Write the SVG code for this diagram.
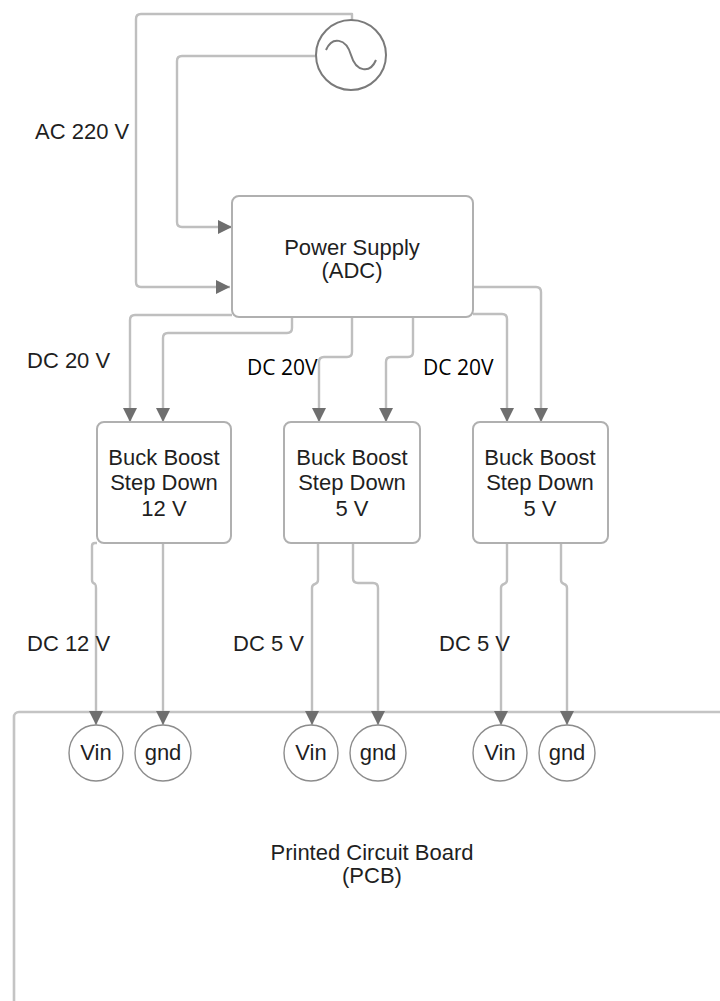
<svg xmlns="http://www.w3.org/2000/svg" width="720" height="1001" viewBox="0 0 720 1001">
<style>
.t{font-family:"Liberation Sans",Arial,sans-serif;font-size:22px;fill:#1f1f1f;text-anchor:middle}
.l{font-family:"Liberation Sans",Arial,sans-serif;font-size:22px;fill:#1f1f1f}
.c{font-family:"Open Sans","Noto Sans",sans-serif;font-size:21px;fill:#000}
.box{fill:#fff;stroke:#b0b0b0;stroke-width:2}
.pin{fill:#fff;stroke:#8c8c8c;stroke-width:1.4}
.w{fill:none;stroke:#bfbfbf;stroke-width:2.4;stroke-linejoin:round}
.wa{fill:none;stroke:#bfbfbf;stroke-width:2.4;stroke-linejoin:round;marker-end:url(#ah)}
</style>
<defs>
<marker id="ah" markerUnits="userSpaceOnUse" markerWidth="14" markerHeight="14" refX="14" refY="7" orient="auto" viewBox="0 0 14 14">
<path d="M0,0 L14,7 L0,14 z" fill="#6f6f6f"/>
</marker>
</defs>
<rect width="720" height="1001" fill="#fff"/>

<g id="pcb">
<rect class="box" x="14" y="712" width="740" height="320" rx="5" style="stroke:#c4c4c4;stroke-width:2.6"/>
<text class="t" x="372" y="860">Printed Circuit Board</text>
<text class="t" x="372" y="883">(PCB)</text>
</g>

<g id="connectors">
<path class="w" d="M352 21 V14 H141 Q136 14 136 19 V282 Q136 287 141 287 H230" style="marker-end:url(#ah)"/>
<path class="wa" d="M316 56 H182 Q177 56 177 61 V222 Q177 227 182 227 H232"/>
<path class="wa" d="M232 315 H135 Q130 315 130 320 V422"/>
<path class="wa" d="M292 317 V328 Q292 333 287 333 H168 Q163 333 163 338 V422"/>
<path class="wa" d="M352 317 V352 Q352 357 347 357 H324 Q319 357 319 362 V422"/>
<path class="wa" d="M413 317 V352 Q413 357 408 357 H391 Q386 357 386 362 V422"/>
<path class="wa" d="M473 314 H502 Q507 314 507 319 V422"/>
<path class="wa" d="M473 287 H536 Q541 287 541 292 V422"/>
<path class="wa" d="M97 543 H95 Q92 543 92 546 V580 Q92 583 95 584 Q96 585 96 588 V725"/>
<path class="wa" d="M163 543 V725"/>
<path class="wa" d="M318 543 V580 Q318 583 315 584 Q312 585 312 588 V725"/>
<path class="wa" d="M353 543 V578 Q353 583 358 583 H373 Q378 583 378 588 V725"/>
<path class="wa" d="M507 543 V580 Q507 583 504 584 Q501 585 501 588 V725"/>
<path class="wa" d="M561 543 V580 Q561 583 564 584 Q567 585 567 588 V725"/>
</g>

<g id="ac-source">
<circle cx="351" cy="55" r="35" fill="#fff" stroke="#7a7a7a" stroke-width="2"/>
<path d="M326 50 C332 36 346 38 351 55 S370 74 376 60" fill="none" stroke="#7a7a7a" stroke-width="2"/>
</g>

<g id="power-supply">
<rect class="box" x="232" y="196" width="241" height="121" rx="7"/>
<text class="t" x="352" y="255">Power Supply</text>
<text class="t" x="352" y="278">(ADC)</text>
</g>

<g id="buck1">
<rect class="box" x="97" y="422" width="134" height="121" rx="7"/>
<text class="t" x="164" y="465">Buck Boost</text>
<text class="t" x="164" y="490">Step Down</text>
<text class="t" x="164" y="516">12 V</text>
</g>
<g id="buck2">
<rect class="box" x="284" y="422" width="136" height="121" rx="7"/>
<text class="t" x="352" y="465">Buck Boost</text>
<text class="t" x="352" y="490">Step Down</text>
<text class="t" x="352" y="516">5 V</text>
</g>
<g id="buck3">
<rect class="box" x="473" y="422" width="135" height="121" rx="7"/>
<text class="t" x="540" y="465">Buck Boost</text>
<text class="t" x="540" y="490">Step Down</text>
<text class="t" x="540" y="516">5 V</text>
</g>

<g id="pin-vin1"><ellipse class="pin" cx="96" cy="753" rx="27" ry="28"/><text class="t" x="96" y="760">Vin</text></g>
<g id="pin-gnd1"><ellipse class="pin" cx="163" cy="753" rx="28" ry="28"/><text class="t" x="163" y="760">gnd</text></g>
<g id="pin-vin2"><ellipse class="pin" cx="311" cy="753" rx="27" ry="28"/><text class="t" x="311" y="760">Vin</text></g>
<g id="pin-gnd2"><ellipse class="pin" cx="378" cy="753" rx="28" ry="28"/><text class="t" x="378" y="760">gnd</text></g>
<g id="pin-vin3"><ellipse class="pin" cx="500" cy="753" rx="27" ry="28"/><text class="t" x="500" y="760">Vin</text></g>
<g id="pin-gnd3"><ellipse class="pin" cx="567" cy="753" rx="28" ry="28"/><text class="t" x="567" y="760">gnd</text></g>

<g id="labels">
<text class="l" x="35" y="139">AC 220 V</text>
<text class="l" x="27" y="368">DC 20 V</text>
<text class="c" x="247" y="375">DC 20V</text>
<text class="c" x="423" y="375">DC 20V</text>
<text class="l" x="27" y="651">DC 12 V</text>
<text class="l" x="233" y="651">DC 5 V</text>
<text class="l" x="439" y="651">DC 5 V</text>
</g>
</svg>
